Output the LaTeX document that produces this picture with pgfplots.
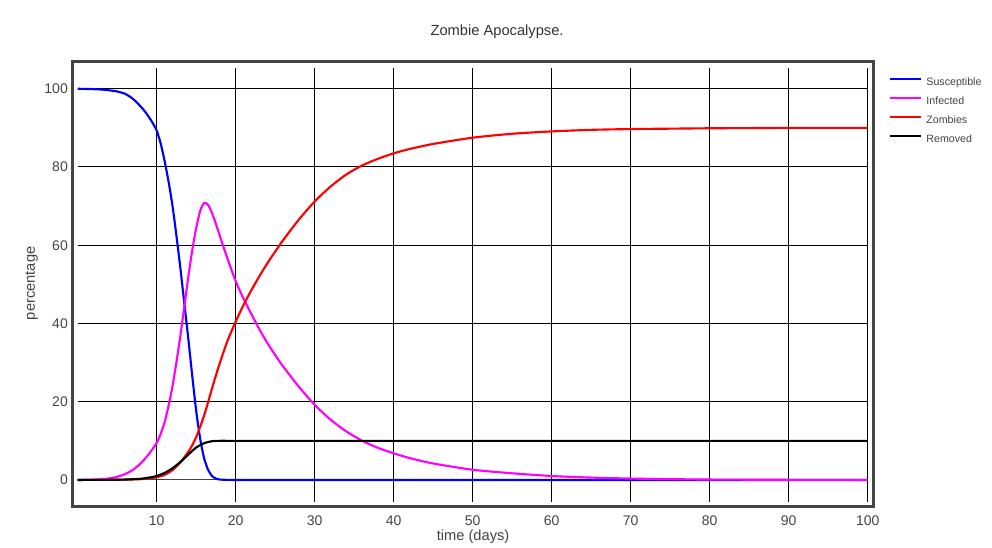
\documentclass[border=0pt]{standalone}
\usepackage{pgfplots}
\pgfplotsset{compat=1.18}
\usepackage{fontspec}
\setmainfont{Liberation Sans}
\definecolor{framegray}{HTML}{444444}
\definecolor{txtgray}{HTML}{444444}
\definecolor{titlegray}{HTML}{333333}
\begin{document}
\begin{tikzpicture}
\path[use as bounding box] (-54.4pt,-31pt) rectangle (689.6pt,380pt);
\begin{axis}[
  at={(0pt,0pt)}, anchor=south west,
  scale only axis,
  width=600.6pt, height=333.75pt,
  xmin=-0.66, xmax=100.71,
  ymin=-6.83, ymax=106.93,
  xtick={10,20,...,100},
  ytick={0,20,...,100},
  major tick length=0pt,
  axis line style={draw=framegray, line width=2.5pt},
  /pgf/number format/assume math mode=true,
  tick label style={font=\fontsize{10.5}{12}\selectfont, text=txtgray},
  xticklabel style={yshift=-3.5pt},
  legend style={at={(1.0188,0.964)}, anchor=north west, draw=none, fill=none,
    inner sep=0pt, row sep=6.25pt, column sep=3.6pt,
    font=\fontsize{8}{9.6}\selectfont, text=txtgray,
    nodes={inner sep=0pt, text height=6pt, text depth=2pt}},
  legend cell align=left,
  legend image code/.code={\draw[#1] (0pt,3pt) -- (23.1pt,3pt);},
]
\pgfplotsinvokeforeach{20,40,60,80,100}{
  \draw[black, line width=0.75pt] (axis cs:0,#1) -- (axis cs:100,#1);
}
\draw[framegray, line width=0.75pt] (axis cs:0,0) -- (axis cs:100,0);
\pgfplotsinvokeforeach{10,20,...,100}{
  \draw[black, line width=0.75pt] (axis cs:#1,-5.54) -- (axis cs:#1,105.3);
}
\addplot[color={rgb,255:red,0;green,0;blue,255}, line width=1.6pt, smooth, tension=0.4] coordinates {
(0,100)(1,99.95)(2,99.9)(3,99.8)(4,99.6)(5,99.3)(6,98.7)(7,97.4)(8,95.4)(8.5,94.2)(9,92.8)(9.5,91.2)(10,89.3)(10.5,86)(11,81.5)(11.5,76.2)(12,70)(12.5,62.3)(13,54)(13.5,45)(14,36)(14.5,26.5)(15,17.5)(15.5,10.5)(16,5.5)(16.5,2.6)(17,1)(17.5,0.35)(18,0.1)(19,0.01)(20,0)(22,0)(25,0)(30,0)(35,0)(40,0)(50,0)(60,0)(70,0)(80,0)(90,0)(100,0)
};
\addlegendentry{Susceptible}
\addplot[color={rgb,255:red,255;green,0;blue,255}, line width=1.6pt, smooth, tension=0.4] coordinates {
(0,0)(1,0.05)(2,0.1)(3,0.2)(4,0.4)(5,0.8)(6,1.5)(7,2.6)(8,4.3)(9,6.6)(10,9.5)(10.5,11.8)(11,14.8)(11.5,19)(12,24)(12.5,30.2)(13,37)(13.5,44.5)(14,52)(14.5,58.8)(15,64.5)(15.5,68.8)(16,70.8)(16.5,70.3)(17,68.2)(17.5,65.4)(18,62.3)(19,56.3)(20,50.8)(21,46.3)(22,42.3)(23,38.5)(24,35)(25,31.9)(26,29)(28,23.8)(30,19.2)(32,15.4)(34,12.4)(36,10)(38,8.2)(40,6.8)(42,5.6)(45,4.2)(50,2.6)(55,1.7)(60,1.0)(65,0.6)(70,0.35)(75,0.2)(80,0.1)(85,0.06)(90,0.03)(95,0.01)(100,0)
};
\addlegendentry{Infected}
\addplot[color={rgb,255:red,255;green,0;blue,0}, line width=1.6pt, smooth, tension=0.4] coordinates {
(0,0)(2,0.01)(4,0.03)(6,0.08)(8,0.2)(9,0.4)(10,0.7)(11,1.3)(12,2.5)(13,4.5)(14,7.2)(14.5,8.9)(15,11)(15.5,13.6)(16,16.5)(16.5,19.9)(17,23.4)(17.5,26.8)(18,30)(19,35.8)(20,40.5)(21,44.8)(22,48.6)(23,52.1)(24,55.4)(25,58.4)(26,61.3)(28,66.6)(30,71.2)(32,75)(34,78.1)(36,80.4)(38,82.1)(40,83.5)(42,84.6)(45,85.9)(50,87.5)(55,88.5)(60,89.1)(65,89.5)(70,89.7)(75,89.8)(80,89.9)(85,89.95)(90,90)(95,90)(100,90)
};
\addlegendentry{Zombies}
\addplot[color=black, line width=1.6pt, smooth, tension=0.4] coordinates {
(0,0)(2,0.01)(4,0.03)(6,0.1)(8,0.3)(9,0.6)(10,1.0)(11,1.8)(12,3.0)(13,4.6)(14,6.5)(15,8.3)(16,9.4)(17,9.9)(18,10)(19,10)(20,10)(22,10)(25,10)(30,10)(35,10)(40,10)(50,10)(60,10)(70,10)(80,10)(90,10)(100,10)
};
\addlegendentry{Removed}
\end{axis}
\node[text=titlegray, font=\fontsize{11}{13}\selectfont] at (318.4pt,356pt) {Zombie Apocalypse.};
\node[text=txtgray, font=\fontsize{11}{13}\selectfont] at (300.4pt,-22.7pt) {time (days)};
\node[text=txtgray, font=\fontsize{11}{13}\selectfont, rotate=90] at (-30.6pt,167.5pt) {percentage};
\end{tikzpicture}
\end{document}
